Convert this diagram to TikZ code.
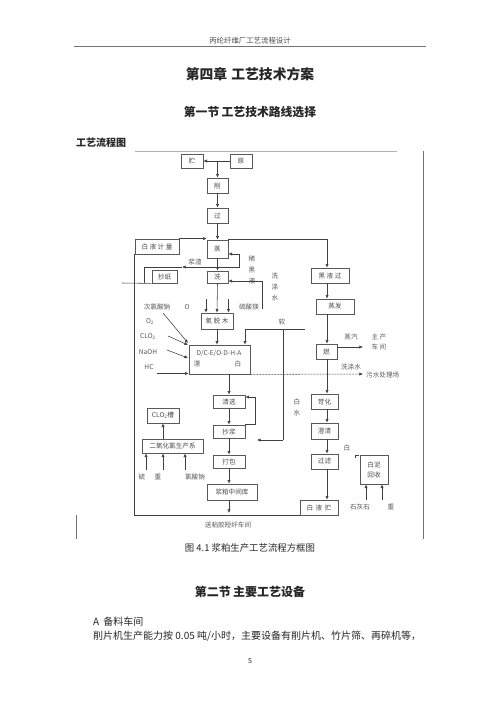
\documentclass[tikz,border=0pt]{standalone}
\usepackage{fontspec}
\setmainfont{Noto Sans CJK SC}
\usetikzlibrary{arrows.meta}
\begin{document}
\begin{tikzpicture}[x=1pt,y=-1pt,
  box/.style={draw=black!65, line width=0.8pt, inner sep=0pt, text=black!70, font=\fontsize{6.6}{7}\selectfont},
  arr/.style={-{Latex[length=3.6pt,width=3.2pt]}, line width=0.55pt, draw=black!75},
  ln/.style={line width=0.55pt, draw=black!75},
  lab/.style={font=\fontsize{6.6}{7}\selectfont, text=black!65, inner sep=0pt},
  vlab/.style={font=\fontsize{6.6}{11}\selectfont, text=black!65, inner sep=0pt, align=center},
  ptxt/.style={text=black!85, inner sep=0pt},
  frame/.style={line width=0.8pt, draw=black!55}
]
\useasboundingbox (0,0) rectangle (500,707);
\fill[white] (0,0) rectangle (500,707);

% ---------- page text ----------
\node[ptxt, text=black!70, font=\fontsize{7.4}{8}\selectfont] (hdr) at (250,41) {丙纶纤维厂工艺流程设计};
\coordinate (hl1) at (74,46); \coordinate (hl2) at (426,46);
\draw[frame] (hl1) -- (hl2);
\node[ptxt, font=\bfseries\fontsize{13.8}{15}\selectfont] (t1) at (250,74) {第四章\hspace{0.3em}工艺技术方案};
\node[ptxt, font=\bfseries\fontsize{11.8}{13}\selectfont] (t2) at (250,112) {第一节\hspace{0.2em}工艺技术路线选择};
\node[ptxt, anchor=west, font=\bfseries\fontsize{10}{11}\selectfont] (t3) at (76,143) {工艺流程图};
\node[ptxt, font=\fontsize{9.4}{10}\selectfont] (cap) at (250,548) {图 4.1 浆粕生产工艺流程方框图};
\node[ptxt, font=\bfseries\fontsize{12}{13}\selectfont] (t4) at (250,592) {第二节\hspace{0.2em}主要工艺设备};
\node[ptxt, anchor=west, font=\fontsize{10}{11}\selectfont] (a1) at (93,622) {A\hspace{0.4em}备料车间};
\node[ptxt, anchor=west, font=\fontsize{10}{11}\selectfont] (a2) at (93,636) {削片机生产能力按 0.05 吨/小时，主要设备有削片机、竹片筛、再碎机等，};
\node[ptxt, font=\fontsize{7}{8}\selectfont] (pn) at (250,661) {5};

% ---------- frame of figure ----------
\coordinate (f1) at (135,151); \coordinate (f2) at (397,151);
\coordinate (f3) at (423,151); \coordinate (f4) at (423,539);
\coordinate (f5) at (76,515); \coordinate (f6) at (76,539);
\draw[line width=1pt, draw=black!30] (f1) -- (f2);
\draw[frame] (f3) -- (f4);
\draw[frame] (f5) -- (f6);

% ---------- boxes ----------
\node[box, minimum width=22pt, minimum height=14pt] (zhu) at (192,161) {贮};
\node[box, minimum width=22pt, minimum height=14pt] (yuan) at (241,161) {原};
\node[box, minimum width=21pt, minimum height=15pt] (xue) at (217.5,185.5) {削};
\node[box, minimum width=21pt, minimum height=15pt] (guo) at (217.5,215.5) {过};
\node[box, minimum width=21pt, minimum height=18pt] (zheng) at (217.5,249) {蒸};
\node[box, minimum width=44pt, minimum height=15pt] (bjl) at (157,246.5) {白 液 计 量};
\node[box, minimum width=25pt, minimum height=13pt] (chaozhi) at (164.5,276.5) {抄纸};
\node[box, minimum width=21pt, minimum height=12pt] (xi) at (217.5,277) {洗};
\node[box, minimum width=32pt, minimum height=16pt] (ytm) at (217,321) {氧 脱 木};
\node[box, minimum width=61pt, minimum height=29pt] (dc) at (219.5,359.5) {};
\node[lab] (dct) at (219,353) {D/C-E/O-D-H-A};
\node[lab] (dcp) at (197,364) {漂};
\node[lab] (dcb) at (238,364) {白};
\node[box, minimum width=32pt, minimum height=13pt] (qx) at (229,401.5) {清选};
\node[box, minimum width=32pt, minimum height=13pt] (cj) at (229,431.5) {抄浆};
\node[box, minimum width=32pt, minimum height=13pt] (db) at (229,461.5) {打包};
\node[box, minimum width=50pt, minimum height=16pt] (jpk) at (232,492) {浆粕中间库};
\node[box, minimum width=32pt, minimum height=15pt] (clo) at (163,415.5) {CLO\textsubscript{2}槽};
\node[box, minimum width=61pt, minimum height=14pt] (eyh) at (172.5,446) {二氧化氯生产系};
\node[box, minimum width=38pt, minimum height=15pt] (hyg) at (330,275.5) {黑 液 过};
\node[box, minimum width=38pt, minimum height=15pt] (zf) at (335,306.5) {蒸发};
\node[box, minimum width=21pt, minimum height=15pt] (ran) at (326.5,351.5) {燃};
\node[box, minimum width=27pt, minimum height=15pt] (kh) at (324.5,401.5) {苛化};
\node[box, minimum width=27pt, minimum height=16pt] (cq) at (324.5,431) {澄清};
\node[box, minimum width=27pt, minimum height=15pt] (gl) at (324.5,461.5) {过滤};
\node[box, minimum width=38pt, minimum height=15pt] (byz) at (319,507.5) {白\hspace{2.5pt}液\hspace{2.5pt}贮};
\node[box, minimum width=28pt, minimum height=29pt, align=center, font=\fontsize{6.6}{10}\selectfont] (bnhs) at (374,469.5) {白泥\\回收};

% ---------- labels ----------
\node[lab] (l1) at (195,262) {浆渣};
\node[vlab] (l2) at (252,270) {稀\\黑\\液};
\node[vlab] (l3) at (275,287) {洗\\涤\\水};
\node[lab] (l4) at (249,307) {硫酸镁};
\node[lab] (l5) at (157,307) {次氯酸钠};
\node[lab] (l6) at (187,307) {O};
\node[lab] (l7) at (150,322) {O\textsubscript{2}};
\node[lab] (l8) at (148,337) {CLO\textsubscript{2}};
\node[lab] (l9) at (148,352) {NaOH};
\node[lab] (l10) at (149,367) {HC};
\node[lab] (l11) at (282,322) {软};
\node[lab] (l12) at (351,337) {蒸汽};
\node[lab] (l13) at (379,337) {主 产};
\node[lab] (l14) at (379,347) {车 间};
\node[lab] (l15) at (351,367) {洗涤水};
\node[lab, anchor=west] (l16) at (366,375) {污水处理场};
\node[vlab] (l17) at (297,407.5) {白\\水};
\node[lab] (l18) at (347,448) {白};
\node[lab] (l19) at (142,477) {硫};
\node[lab] (l20) at (158,477) {重};
\node[lab] (l21) at (195,477) {氯酸钠};
\node[lab] (l22) at (360,507) {石灰石};
\node[lab] (l23) at (391,507) {重};
\node[lab] (l24) at (228,525) {送粘胶短纤车间};

% ---------- helper coordinates ----------
\coordinate (rx) at (327,0);
\coordinate (jA) at (217.5,267);
\coordinate (jR) at (239.5,267);
\coordinate (jR2) at (239.5,254);
\coordinate (jL) at (182,267);
\coordinate (jL2) at (144,267);
\coordinate (jL3) at (144,283);
\coordinate (czL) at (122,283);
\coordinate (msA) at (262,309);
\coordinate (msB) at (262,281);
\coordinate (yL) at (206,299);
\coordinate (yR) at (228.5,299);
\coordinate (rA) at (305,329);
\coordinate (rB) at (245,329);
\coordinate (rC) at (283,329);
\coordinate (rD) at (283,440);
\coordinate (rE) at (257,440);
\coordinate (c1) at (163,313); \coordinate (c1e) at (188,343);
\coordinate (c2) at (168,336); \coordinate (c2e) at (188,345);
\coordinate (c3) at (167,350); \coordinate (c3e) at (188,358);
\coordinate (hc) at (157,373.5);
\coordinate (ws) at (363,374);
\coordinate (st) at (363,347);
\coordinate (lpx) at (255,397);
\coordinate (bot) at (229,513);
\coordinate (in1) at (146,470);
\coordinate (in2) at (163,470);
\coordinate (in3) at (185,470);
\coordinate (bn1) at (366,500);
\coordinate (bn2) at (382,500);
\coordinate (bnA) at (355,458);
\coordinate (bnB) at (358.5,455.5);

% ---------- connectors ----------
\draw[arr] (yuan.west) -- (zhu.east);
\draw[arr] (zhu.east -| xue.north) -- (xue.north);
\draw[arr] (xue.south) -- (guo.north);
\draw[arr] (guo.south) -- (zheng.north);
\draw[arr] (bjl.north east) -- (bjl.north east -| zheng.west);
\draw[arr] (zheng.north east) -- (zheng.north east -| rx) -- (hyg.north -| rx);
\draw[arr] (zheng.south) -- (xi.north);
\draw[ln] (jA) -- (jR) -- (jR2);
\draw[arr] (jR2) -- (jR2 -| zheng.east);
\draw[arr] (jA) -- (jL);
\draw[ln] (jL) -- (jL2) -- (jL3);
\draw[ln] (chaozhi.south west) -- (czL);
\draw[ln] (msA) -- (msB);
\draw[arr] (msB) -- (msB -| xi.east);
\draw[arr] (xi.south) -- (ytm.north);
\draw[arr] (yL) -- (yL |- ytm.north);
\draw[arr] (yR) -- (yR |- ytm.north);
\draw[arr] (ytm.south) -- (ytm.south |- dc.north);
\draw[ln] (rA) -- (rB);
\draw[arr] (rB) -- (rB |- dc.north);
\draw[ln] (rC) -- (rD);
\draw[arr] (rD) -- (rE);
\draw[arr] (c1) -- (c1e);
\draw[arr] (c2) -- (c2e);
\draw[arr] (c3) -- (c3e);
\draw[arr] (hc) -- (hc -| dc.west);
\draw[arr, dash pattern=on 2pt off 1pt] (dc.south east) -- (ws);
\draw[arr] (dc.south -| qx.north) -- (qx.north);
\draw[arr] (qx.south) -- (cj.north);
\draw[arr] (cj.south) -- (db.north);
\draw[arr] (db.south) -- (db.south |- jpk.north);
\draw[arr] (db.south |- jpk.south) -- (bot);
\draw[ln] (cj.north east) -- (cj.north east -| lpx) -- (lpx);
\draw[arr] (lpx) -- (lpx -| qx.east);
\draw[ln] (byz.south west) -- (byz.south west -| bjl.west) -- (bjl.south west);
\draw[arr] (hyg.south -| rx) -- (zf.north -| rx);
\draw[arr] (zf.south -| rx) -- (ran.north -| rx);
\draw[arr] (ran.south -| rx) -- (kh.north -| rx);
\draw[arr] (kh.south -| rx) -- (cq.north -| rx);
\draw[arr] (cq.south -| rx) -- (gl.north -| rx);
\draw[arr] (gl.south -| rx) -- (byz.north -| rx);
\draw[arr] (ran.east |- st) -- (st);
\draw[arr] (eyh.north -| clo.south) -- (clo.south);
\draw[arr] (in1) -- (in1 |- eyh.south);
\draw[arr] (in2) -- (in2 |- eyh.south);
\draw[arr] (in3) -- (in3 |- eyh.south);
\draw[arr] (bn1) -- (bn1 |- bnhs.south);
\draw[arr] (bn2) -- (bn2 |- bnhs.south);
\draw[ln] (bnA) -- (bnA |- bnB) -- (bnB);
\end{tikzpicture}
\end{document}
